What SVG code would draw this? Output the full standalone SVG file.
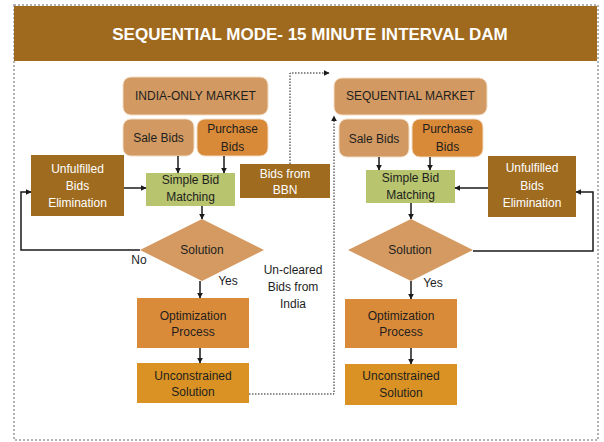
<svg xmlns="http://www.w3.org/2000/svg" width="604" height="442" viewBox="0 0 604 442">
  <defs>
    <marker id="arr" viewBox="0 0 10 10" refX="9" refY="5" markerWidth="6" markerHeight="6" orient="auto" markerUnits="userSpaceOnUse">
      <path d="M0,0 L10,5 L0,10 z" fill="#1a1a1a"/>
    </marker>
    <style>
      text { font-family: "Liberation Sans", Arial, sans-serif; font-size: 12px; fill: #1e1e1e; text-anchor: middle; dominant-baseline: central; }
      .light { fill: #ffffff; }
      .title { font-size: 17px; font-weight: bold; fill: #ffffff; }
      .market { fill: #D29A62; stroke: #f2dcc4; stroke-width: 1; }
      .purchase { fill: #D98A38; stroke: #f2dcc4; stroke-width: 1; }
      .dark { fill: #9E6B1F; }
      .match { fill: #B8C46E; }
      .diamond { fill: #D49A62; }
      .opt { fill: #D98B3A; }
      .uncon { fill: #DA9224; }
      .line { fill: none; stroke: #1a1a1a; stroke-width: 1.5; }
      .dot { fill: none; stroke: #1a1a1a; stroke-width: 1; stroke-dasharray: 1.5,1.5; }
    </style>
  </defs>

  <!-- frame and header -->
  <rect x="14" y="5" width="584" height="435" fill="#ffffff" stroke="#999999" stroke-width="1.5" stroke-dasharray="2,2"/>
  <rect x="14" y="6" width="583" height="55" fill="#A06A1E"/>
  <text class="title" x="310" y="34">SEQUENTIAL MODE- 15 MINUTE INTERVAL DAM</text>

  <!-- left flow: India-only market -->
  <g id="india-market">
    <rect class="market" x="123" y="77" width="145" height="38" rx="8"/>
    <text x="195.5" y="96">INDIA-ONLY MARKET</text>
  </g>
  <g id="india-sale">
    <rect class="market" x="123" y="119" width="71" height="37" rx="8"/>
    <text x="158.5" y="138">Sale Bids</text>
  </g>
  <g id="india-purchase">
    <rect class="purchase" x="197" y="119" width="71" height="37" rx="8"/>
    <text x="232.5" y="129">Purchase</text>
    <text x="232.5" y="147">Bids</text>
  </g>
  <g id="india-unfulfilled">
    <rect class="dark" x="31" y="155" width="93" height="61"/>
    <text class="light" x="77.5" y="169">Unfulfilled</text>
    <text class="light" x="77.5" y="186">Bids</text>
    <text class="light" x="77.5" y="203">Elimination</text>
  </g>
  <g id="india-matching">
    <rect class="match" x="146" y="173" width="89" height="33"/>
    <text x="190.5" y="180">Simple Bid</text>
    <text x="190.5" y="197">Matching</text>
  </g>
  <g id="bbn">
    <rect class="dark" x="240" y="164" width="90" height="34"/>
    <text class="light" x="285" y="174">Bids from</text>
    <text class="light" x="285" y="190">BBN</text>
  </g>
  <g id="india-solution">
    <polygon class="diamond" points="202,219 264,250 202,281 140,250"/>
    <text x="202" y="250">Solution</text>
  </g>
  <g id="india-opt">
    <rect class="opt" x="137" y="298" width="112" height="50"/>
    <text x="193" y="316">Optimization</text>
    <text x="193" y="332">Process</text>
  </g>
  <g id="india-uncon">
    <rect class="uncon" x="137" y="363" width="112" height="40"/>
    <text x="193" y="376">Unconstrained</text>
    <text x="193" y="392">Solution</text>
  </g>

  <!-- right flow: sequential market -->
  <g id="seq-market">
    <rect class="market" x="334" y="78" width="153" height="37" rx="8"/>
    <text x="410.5" y="96">SEQUENTIAL MARKET</text>
  </g>
  <g id="seq-sale">
    <rect class="market" x="339" y="119" width="70" height="38" rx="8"/>
    <text x="374" y="139">Sale Bids</text>
  </g>
  <g id="seq-purchase">
    <rect class="purchase" x="412" y="119" width="71" height="38" rx="8"/>
    <text x="447.5" y="129">Purchase</text>
    <text x="447.5" y="147">Bids</text>
  </g>
  <g id="seq-matching">
    <rect class="match" x="366" y="170" width="89" height="33"/>
    <text x="410.5" y="178">Simple Bid</text>
    <text x="410.5" y="195">Matching</text>
  </g>
  <g id="seq-unfulfilled">
    <rect class="dark" x="488" y="156" width="88" height="61"/>
    <text class="light" x="532" y="168">Unfulfilled</text>
    <text class="light" x="532" y="186">Bids</text>
    <text class="light" x="532" y="203">Elimination</text>
  </g>
  <g id="seq-solution">
    <polygon class="diamond" points="411,219 473,250 411,281 348,250"/>
    <text x="410" y="250">Solution</text>
  </g>
  <g id="seq-opt">
    <rect class="opt" x="345" y="299" width="112" height="49"/>
    <text x="401" y="316">Optimization</text>
    <text x="401" y="332">Process</text>
  </g>
  <g id="seq-uncon">
    <rect class="uncon" x="345" y="364" width="112" height="41"/>
    <text x="401" y="376">Unconstrained</text>
    <text x="401" y="393">Solution</text>
  </g>

  <!-- labels -->
  <g id="labels">
    <text x="139" y="260">No</text>
    <text x="228" y="281">Yes</text>
    <text x="433" y="283">Yes</text>
    <text x="293" y="270">Un-cleared</text>
    <text x="293" y="287">Bids from</text>
    <text x="293" y="304">India</text>
  </g>

  <!-- connectors -->
  <g id="connectors">
    <line class="line" x1="178" y1="156" x2="178" y2="173" marker-end="url(#arr)"/>
    <line class="line" x1="224" y1="156" x2="224" y2="173" marker-end="url(#arr)"/>
    <line class="line" x1="124" y1="188" x2="146" y2="188" marker-end="url(#arr)"/>
    <line class="line" x1="202" y1="206" x2="202" y2="219" marker-end="url(#arr)"/>
    <polyline class="line" points="140,250 21,250 21,192 31,192" marker-end="url(#arr)"/>
    <line class="line" x1="200" y1="281" x2="200" y2="298" marker-end="url(#arr)"/>
    <line class="line" x1="200" y1="348" x2="200" y2="363" marker-end="url(#arr)"/>

    <line class="line" x1="379" y1="157" x2="379" y2="170" marker-end="url(#arr)"/>
    <line class="line" x1="430" y1="157" x2="430" y2="170" marker-end="url(#arr)"/>
    <line class="line" x1="488" y1="188" x2="455" y2="188" marker-end="url(#arr)"/>
    <line class="line" x1="411" y1="203" x2="411" y2="219" marker-end="url(#arr)"/>
    <polyline class="line" points="473,251 593,251 593,192 576,192" marker-end="url(#arr)"/>
    <line class="line" x1="411" y1="281" x2="411" y2="299" marker-end="url(#arr)"/>
    <line class="line" x1="411" y1="348" x2="411" y2="364" marker-end="url(#arr)"/>

    <polyline class="dot" points="290,164 290,73 329,73" marker-end="url(#arr)"/>
    <polyline class="dot" points="249,394 334,394 334,116" marker-end="url(#arr)"/>
  </g>
</svg>
